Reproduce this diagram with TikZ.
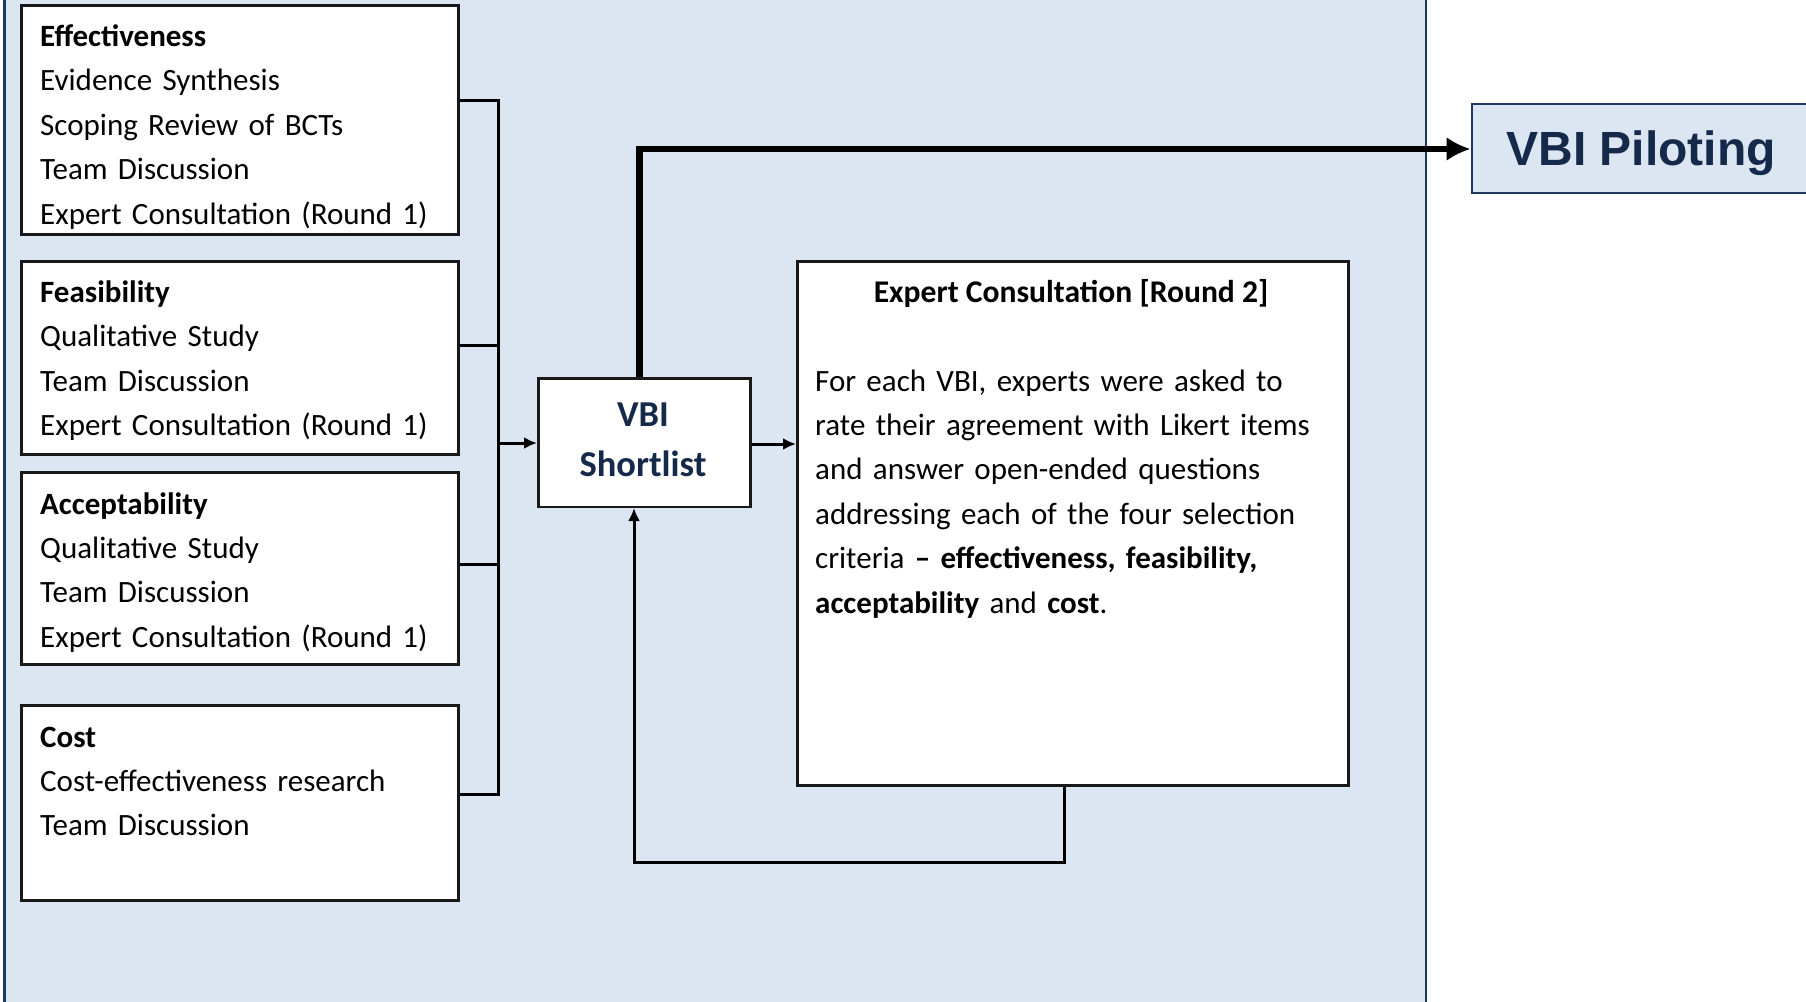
\documentclass[tikz,border=0pt]{standalone}
\usepackage{fontspec}
\setmainfont{Carlito}
\newfontfamily\arialfont{Liberation Sans}
\usetikzlibrary{arrows.meta}
\definecolor{panelfill}{HTML}{DCE6F2}
\definecolor{panelborder}{HTML}{1F3A60}
\definecolor{navy}{HTML}{15294A}
\begin{document}
\begin{tikzpicture}[x=1pt,y=-1pt,
  box/.style={draw=black!90, line width=2.5pt, fill=white, inner sep=0pt, anchor=north west},
  txt/.style={inner sep=0pt, anchor=base west, text width=#1, align=left,
              font=\fontsize{31pt}{44.4pt}\selectfont},
  conn/.style={draw=black, line width=3pt, line join=miter},
  tip/.style={-{Latex[length=13pt,width=12pt]}},
  bigtip/.style={-{Latex[length=24pt,width=24pt]}},
]
\useasboundingbox (0,0) rectangle (1806,1001);
\clip (0,0) rectangle (1806,1001);
% panel
\fill[panelfill] (4.5,-10) rectangle (1426,1011);
\draw[panelborder, line width=3pt] (4.5,-10) -- (4.5,1011);
\draw[panelborder, line width=2.8pt] (1426,-10) -- (1426,1011);

% left boxes
\node[box, minimum width=437pt, minimum height=229pt] (eff) at (20,4) {};
\node[box, minimum width=437pt, minimum height=193pt] (feas) at (20,260) {};
\node[box, minimum width=437pt, minimum height=192pt] (acc) at (20,471) {};
\node[box, minimum width=437pt, minimum height=195pt] (cost) at (20,704) {};

\node[txt=420pt] (efft) at (40,46.5) {\textbf{Effectiveness}\\Evidence Synthesis\\Scoping Review of BCTs\\Team Discussion\\Expert Consultation (Round 1)};
\node[txt=420pt] (feast) at (40,302.5) {\textbf{Feasibility}\\Qualitative Study\\Team Discussion\\Expert Consultation (Round 1)};
\node[txt=420pt] (acct) at (40,514) {\textbf{Acceptability}\\Qualitative Study\\Team Discussion\\Expert Consultation (Round 1)};
\node[txt=420pt] (costt) at (40,747) {\textbf{Cost}\\Cost-effectiveness research\\Team Discussion};

% shortlist
\node[box, minimum width=212pt, minimum height=128.5pt] (sl) at (537,377) {};
\node[inner sep=0pt, anchor=base, text width=200pt, align=center, text=navy,
      font=\bfseries\fontsize{36.5pt}{50pt}\selectfont] (slt) at (643,426) {VBI\\Shortlist};

% expert consultation round 2
\node[box, minimum width=551pt, minimum height=524pt] (ec) at (796,260) {};
\node[inner sep=0pt, anchor=base, font=\bfseries\fontsize{31.6pt}{38pt}\selectfont] (ect) at (1071,302.5) {Expert Consultation [Round 2]};
\node[txt=520pt] (ecb) at (815,391) {For each VBI, experts were asked to\\rate their agreement with Likert items\\and answer open-ended questions\\addressing each of the four selection\\criteria \textbf{– effectiveness, feasibility,}\\\textbf{acceptability} and \textbf{cost}.};

% VBI piloting
\node[draw=panelborder, line width=2.8pt, fill=panelfill, minimum width=338pt, minimum height=89pt,
      inner sep=0pt, text=navy, text height=34.5pt, text depth=0pt,
      font=\arialfont\bfseries\fontsize{48pt}{57pt}\selectfont] (pilot) at (1641,148.5) {VBI Piloting};

% connectors
\coordinate (b1) at (498,100);
\coordinate (b2) at (498,345);
\coordinate (b3) at (498,564);
\coordinate (b4) at (498,794);
\coordinate (bin) at (498,443);
\draw[conn] (eff.east |- b1) -- (b1) -- (b4) -- (cost.east |- b4);
\draw[conn] (feas.east |- b2) -- (b2);
\draw[conn] (acc.east |- b3) -- (b3);
\draw[conn, tip] (bin) -- (sl.west |- bin);

\coordinate (mid) at (770,444);
\draw[conn, tip] (sl.east |- mid) -- (ec.west |- mid);

\coordinate (tp) at (639.5,149);
\draw[conn, line width=6.8pt, bigtip] (sl.north -| tp) -- (tp) -- (pilot.west |- tp);

\coordinate (fbr) at (1064,862);
\coordinate (fbl) at (634,862);
\draw[conn, tip] (ec.south -| fbr) -- (fbr) -- (fbl) -- (sl.south -| fbl);
\end{tikzpicture}
\end{document}
